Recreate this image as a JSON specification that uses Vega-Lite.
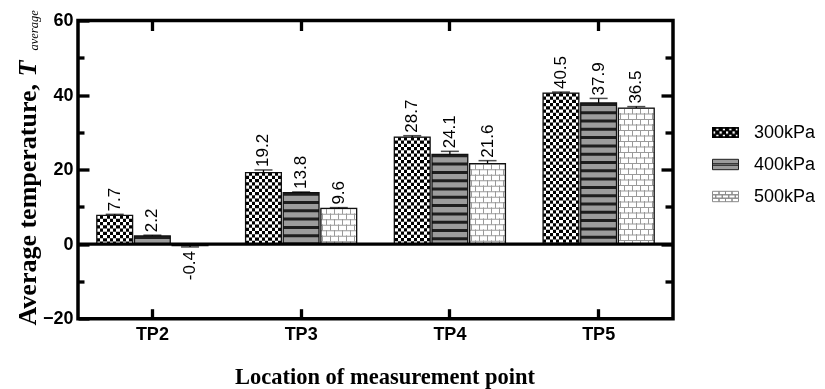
{
  "$schema": "https://vega.github.io/schema/vega-lite/v6.json",
  "autosize": {"type": "none"},
  "padding": {"left": 78, "top": 20.5, "right": 152, "bottom": 70.3},
  "width": 595,
  "height": 298.2,
  "background": "white",
  "data": {"values": [
    {"loc": "TP2", "p": "300kPa", "v": 7.7, "hi": 8.0},
    {"loc": "TP2", "p": "400kPa", "v": 2.2, "hi": 2.4},
    {"loc": "TP2", "p": "500kPa", "v": -0.4, "hi": -0.75},
    {"loc": "TP3", "p": "300kPa", "v": 19.2, "hi": 19.9},
    {"loc": "TP3", "p": "400kPa", "v": 13.8, "hi": 14.0},
    {"loc": "TP3", "p": "500kPa", "v": 9.6, "hi": 9.8},
    {"loc": "TP4", "p": "300kPa", "v": 28.7, "hi": 29.1},
    {"loc": "TP4", "p": "400kPa", "v": 24.1, "hi": 24.9},
    {"loc": "TP4", "p": "500kPa", "v": 21.6, "hi": 22.4},
    {"loc": "TP5", "p": "300kPa", "v": 40.5, "hi": 40.8},
    {"loc": "TP5", "p": "400kPa", "v": 37.9, "hi": 39.1},
    {"loc": "TP5", "p": "500kPa", "v": 36.5, "hi": 36.9}
  ]},
  "config": {
    "view": {"stroke": "#000", "strokeWidth": 3.5},
    "axis": {"domain": false, "grid": false, "tickColor": "#000", "tickWidth": 3.3, "labelFont": "Liberation Sans", "labelFontSize": 18, "labelFontWeight": "bold", "labelColor": "#000", "titleColor": "#000"}
  },
  "resolve": {"axis": {"x": "independent", "y": "independent"}},
  "layer": [
    {
      "transform": [{"filter": "datum.p == '300kPa'"}],
      "mark": {"type": "bar", "fill": {"gradient": "linear", "x1": 0, "y1": 0, "x2": 1, "y2": 0, "stops": [{"offset":0,"color":"#000"},{"offset":0.0909,"color":"#000"},{"offset":0.0909,"color":"#fff"},{"offset":0.1818,"color":"#fff"},{"offset":0.1818,"color":"#000"},{"offset":0.2727,"color":"#000"},{"offset":0.2727,"color":"#fff"},{"offset":0.3636,"color":"#fff"},{"offset":0.3636,"color":"#000"},{"offset":0.4545,"color":"#000"},{"offset":0.4545,"color":"#fff"},{"offset":0.5455,"color":"#fff"},{"offset":0.5455,"color":"#000"},{"offset":0.6364,"color":"#000"},{"offset":0.6364,"color":"#fff"},{"offset":0.7273,"color":"#fff"},{"offset":0.7273,"color":"#000"},{"offset":0.8182,"color":"#000"},{"offset":0.8182,"color":"#fff"},{"offset":0.9091,"color":"#fff"},{"offset":0.9091,"color":"#000"},{"offset":1,"color":"#000"}]}},
      "encoding": {
        "x": {"field": "loc", "type": "nominal", "scale": {"paddingInner": 0, "paddingOuter": 0},
              "axis": {"orient": "bottom", "title": "Location of measurement point", "titleFont": "Liberation Serif", "titleFontSize": 22.5, "titleFontWeight": "bold", "titleX": 306.5, "titleY": 64.3, "titleAlign": "center", "titleBaseline": "alphabetic", "labelAngle": 0, "labelBaseline": "top", "labelPadding": 17, "tickSize": -10}},
        "xOffset": {"field": "p", "type": "nominal", "scale": {"paddingInner": 0.05, "paddingOuter": 0.5}},
        "y": {"field": "v", "type": "quantitative", "scale": {"domain": [-20, 60], "nice": false},
              "axis": {"orient": "left", "values": [-20, 0, 20, 40, 60], "tickSize": -11, "labelPadding": 16, "title": "Average temperature,", "titleFont": "Liberation Serif", "titleFontSize": 26, "titleFontWeight": "bold", "titleAngle": 270, "titleAlign": "left", "titleBaseline": "alphabetic", "titleX": -43, "titleY": 304.5}}
      }
    },
    {
      "transform": [{"filter": "datum.p == '300kPa'"}],
      "mark": {"type": "rule", "stroke": "#fff", "strokeWidth": 35.78, "strokeCap": "butt", "strokeDash": [3.25, 3.25], "blend": "difference"},
      "encoding": {
        "x": {"field": "loc", "type": "nominal", "axis": {"orient": "top", "labels": false, "tickSize": -10, "title": null}},
        "xOffset": {"field": "p", "type": "nominal"},
        "y": {"field": "v", "type": "quantitative", "axis": {"orient": "right", "values": [0, 20, 40], "labels": false, "tickSize": -12, "title": null}},
        "y2": {"datum": 0}
      }
    },
    {
      "transform": [{"filter": "datum.p == '400kPa'"}],
      "mark": {"type": "bar", "fill": "#9c9c9c"},
      "encoding": {
        "x": {"field": "loc", "type": "nominal", "axis": null},
        "xOffset": {"field": "p", "type": "nominal"},
        "y": {"field": "v", "type": "quantitative", "axis": {"orient": "left", "values": [-10, 10, 30, 50], "labels": false, "tickSize": -6, "title": null}}
      }
    },
    {
      "transform": [{"filter": "datum.p == '400kPa'"}],
      "mark": {"type": "rule", "stroke": "#1e1e1e", "strokeWidth": 35.78, "strokeCap": "butt", "strokeDash": [3, 5.3]},
      "encoding": {
        "x": {"field": "loc", "type": "nominal", "axis": null},
        "xOffset": {"field": "p", "type": "nominal"},
        "y": {"field": "v", "type": "quantitative", "axis": {"orient": "right", "values": [-10, 10, 30, 50], "labels": false, "tickSize": -8, "title": null}},
        "y2": {"datum": 0}
      }
    },
    {
      "transform": [{"filter": "datum.p == '500kPa'"}],
      "mark": {"type": "bar", "fill": {"gradient": "linear", "x1": 0, "y1": 0, "x2": 1, "y2": 0, "stops": [{"offset":0,"color":"#000"},{"offset":0.1118,"color":"#000"},{"offset":0.1118,"color":"#fff"},{"offset":0.2236,"color":"#fff"},{"offset":0.2236,"color":"#000"},{"offset":0.3354,"color":"#000"},{"offset":0.3354,"color":"#fff"},{"offset":0.4472,"color":"#fff"},{"offset":0.4472,"color":"#000"},{"offset":0.559,"color":"#000"},{"offset":0.559,"color":"#fff"},{"offset":0.6708,"color":"#fff"},{"offset":0.6708,"color":"#000"},{"offset":0.7826,"color":"#000"},{"offset":0.7826,"color":"#fff"},{"offset":0.8944,"color":"#fff"},{"offset":0.8944,"color":"#000"},{"offset":1,"color":"#000"}]}},
      "encoding": {
        "x": {"field": "loc", "type": "nominal", "axis": null},
        "xOffset": {"field": "p", "type": "nominal"},
        "y": {"field": "v", "type": "quantitative", "axis": {"orient": "left", "labels": false, "ticks": false, "title": "T", "titleFont": "Liberation Serif", "titleFontSize": 26, "titleFontWeight": "bold", "titleFontStyle": "italic", "titleAngle": 270, "titleAlign": "left", "titleBaseline": "alphabetic", "titleX": -43, "titleY": 55.5}}
      }
    },
    {
      "transform": [{"filter": "datum.p == '500kPa'"}],
      "mark": {"type": "rule", "stroke": "#fff", "strokeWidth": 35.78, "strokeCap": "butt", "strokeDash": [5.5, 5.5], "blend": "difference"},
      "encoding": {
        "x": {"field": "loc", "type": "nominal", "axis": null},
        "xOffset": {"field": "p", "type": "nominal"},
        "y": {"field": "v", "type": "quantitative", "axis": {"orient": "left", "labels": false, "ticks": false, "title": "average", "titleFont": "Liberation Serif", "titleFontSize": 12.5, "titleFontWeight": "normal", "titleFontStyle": "italic", "titleAngle": 270, "titleAlign": "left", "titleBaseline": "alphabetic", "titleX": -40.5, "titleY": 29.5}},
        "y2": {"datum": 0}
      }
    },
    {
      "transform": [{"filter": "datum.p == '500kPa'"}],
      "mark": {"type": "bar", "blend": "lighten", "fill": {"gradient": "linear", "x1": 0, "y1": 0, "x2": 1, "y2": 0, "stops": [{"offset":0,"color":"#fff"},{"offset":0.0419,"color":"#fff"},{"offset":0.0419,"color":"#9a9a9a"},{"offset":0.0699,"color":"#9a9a9a"},{"offset":0.0699,"color":"#fff"},{"offset":0.1537,"color":"#fff"},{"offset":0.1537,"color":"#9a9a9a"},{"offset":0.1817,"color":"#9a9a9a"},{"offset":0.1817,"color":"#fff"},{"offset":0.2655,"color":"#fff"},{"offset":0.2655,"color":"#9a9a9a"},{"offset":0.2935,"color":"#9a9a9a"},{"offset":0.2935,"color":"#fff"},{"offset":0.3773,"color":"#fff"},{"offset":0.3773,"color":"#9a9a9a"},{"offset":0.4053,"color":"#9a9a9a"},{"offset":0.4053,"color":"#fff"},{"offset":0.4891,"color":"#fff"},{"offset":0.4891,"color":"#9a9a9a"},{"offset":0.517,"color":"#9a9a9a"},{"offset":0.517,"color":"#fff"},{"offset":0.6009,"color":"#fff"},{"offset":0.6009,"color":"#9a9a9a"},{"offset":0.6288,"color":"#9a9a9a"},{"offset":0.6288,"color":"#fff"},{"offset":0.7127,"color":"#fff"},{"offset":0.7127,"color":"#9a9a9a"},{"offset":0.7406,"color":"#9a9a9a"},{"offset":0.7406,"color":"#fff"},{"offset":0.8245,"color":"#fff"},{"offset":0.8245,"color":"#9a9a9a"},{"offset":0.8524,"color":"#9a9a9a"},{"offset":0.8524,"color":"#fff"},{"offset":0.9363,"color":"#fff"},{"offset":0.9363,"color":"#9a9a9a"},{"offset":0.9642,"color":"#9a9a9a"},{"offset":0.9642,"color":"#fff"},{"offset":1,"color":"#fff"}]}},
      "encoding": {
        "x": {"field": "loc", "type": "nominal", "axis": null},
        "xOffset": {"field": "p", "type": "nominal"},
        "y": {"field": "v", "type": "quantitative", "axis": null}
      }
    },
    {
      "transform": [{"filter": "datum.p == '500kPa'"}],
      "mark": {"type": "rule", "stroke": "#9a9a9a", "strokeWidth": 35.78, "strokeCap": "butt", "strokeDash": [1, 4.5]},
      "encoding": {
        "x": {"field": "loc", "type": "nominal", "axis": null},
        "xOffset": {"field": "p", "type": "nominal"},
        "y": {"field": "v", "type": "quantitative", "axis": null},
        "y2": {"datum": 0}
      }
    },
    {
      "mark": {"type": "bar", "fill": "#fff", "fillOpacity": 0, "stroke": "#111", "strokeWidth": 1.3},
      "encoding": {
        "x": {"field": "loc", "type": "nominal", "axis": null},
        "xOffset": {"field": "p", "type": "nominal"},
        "y": {"field": "v", "type": "quantitative", "axis": null}
      }
    },
    {
      "data": {"values": [{"z": 0}]},
      "mark": {"type": "rule", "color": "#000", "strokeWidth": 3.2},
      "encoding": {"y": {"datum": 0, "type": "quantitative", "axis": null}}
    },
    {
      "mark": {"type": "rule", "color": "#000", "strokeWidth": 1.3},
      "encoding": {
        "x": {"field": "loc", "type": "nominal", "axis": null},
        "xOffset": {"field": "p", "type": "nominal"},
        "y": {"field": "v", "type": "quantitative", "axis": null},
        "y2": {"field": "hi"}
      }
    },
    {
      "mark": {"type": "tick", "orient": "horizontal", "size": 18, "thickness": 1.5, "color": "#000"},
      "encoding": {
        "x": {"field": "loc", "type": "nominal", "axis": null},
        "xOffset": {"field": "p", "type": "nominal"},
        "y": {"field": "hi", "type": "quantitative", "axis": null}
      }
    },
    {
      "transform": [{"filter": "datum.v >= 0"}],
      "mark": {"type": "text", "angle": 270, "align": "left", "baseline": "middle", "dx": 3, "font": "Liberation Sans", "fontSize": 17, "color": "#000"},
      "encoding": {
        "x": {"field": "loc", "type": "nominal", "axis": null},
        "xOffset": {"field": "p", "type": "nominal"},
        "y": {"field": "hi", "type": "quantitative", "axis": null},
        "text": {"field": "v", "type": "nominal"}
      }
    },
    {
      "transform": [{"filter": "datum.v < 0"}],
      "mark": {"type": "text", "angle": 270, "align": "right", "baseline": "middle", "dx": -4, "font": "Liberation Sans", "fontSize": 17, "color": "#000"},
      "encoding": {
        "x": {"field": "loc", "type": "nominal", "axis": null},
        "xOffset": {"field": "p", "type": "nominal"},
        "y": {"field": "hi", "type": "quantitative", "axis": null},
        "text": {"field": "v", "type": "nominal"}
      }
    },
    {
      "mark": {"type": "point", "opacity": 0, "filled": true, "strokeWidth": 1},
      "encoding": {
        "x": {"field": "loc", "type": "nominal", "axis": null},
        "xOffset": {"field": "p", "type": "nominal"},
        "y": {"field": "v", "type": "quantitative", "axis": null},
        "fill": {"field": "p", "type": "nominal", "scale": {"range": ["#000", "#9c9c9c", "#fff"]},
                 "legend": {"title": null, "orient": "none", "legendX": 634, "legendY": 98.5, "symbolSize": 676, "symbolStrokeWidth": 1, "symbolOpacity": 1, "labelFont": "Liberation Sans", "labelFontSize": 18, "labelColor": "#000", "labelOffset": 15, "rowPadding": 9, "padding": 0}},
        "stroke": {"field": "p", "type": "nominal", "scale": {"range": ["#000", "#1e1e1e", "#8a8a8a"]},
                 "legend": {"title": null, "orient": "none", "legendX": 634, "legendY": 98.5, "symbolSize": 676, "symbolStrokeWidth": 1, "symbolOpacity": 1, "labelFont": "Liberation Sans", "labelFontSize": 18, "labelColor": "#000", "labelOffset": 15, "rowPadding": 9, "padding": 0}},
        "shape": {"field": "p", "type": "nominal", "scale": {"range": [
          "M-1 -0.375h0.25v0.25h-0.25Z M-0.5 -0.375h0.25v0.25h-0.25Z M0 -0.375h0.25v0.25h-0.25Z M0.5 -0.375h0.25v0.25h-0.25Z M-0.75 -0.125h0.25v0.25h-0.25Z M-0.25 -0.125h0.25v0.25h-0.25Z M0.25 -0.125h0.25v0.25h-0.25Z M0.75 -0.125h0.25v0.25h-0.25Z M-1 0.125h0.25v0.25h-0.25Z M-0.5 0.125h0.25v0.25h-0.25Z M0 0.125h0.25v0.25h-0.25Z M0.5 0.125h0.25v0.25h-0.25Z M-1 -0.375h2v0.04h-2Z M-1 0.335h2v0.04h-2Z M-1 -0.375h0.04v0.75h-0.04Z M0.96 -0.375h0.04v0.75h-0.04Z",
          "M-1 -0.4h2v0.8h-2Z M-1 -0.06h2v0.12h-2Z",
          "M-1 -0.4h0.5v0.2667h-0.5Z M-0.5 -0.4h0.5v0.2667h-0.5Z M0 -0.4h0.5v0.2667h-0.5Z M0.5 -0.4h0.5v0.2667h-0.5Z M-1 -0.1333h0.25v0.2667h-0.25Z M-0.75 -0.1333h0.5v0.2667h-0.5Z M-0.25 -0.1333h0.5v0.2667h-0.5Z M0.25 -0.1333h0.5v0.2667h-0.5Z M0.75 -0.1333h0.25v0.2667h-0.25Z M-1 0.1333h0.5v0.2667h-0.5Z M-0.5 0.1333h0.5v0.2667h-0.5Z M0 0.1333h0.5v0.2667h-0.5Z M0.5 0.1333h0.5v0.2667h-0.5Z"
        ]},
                 "legend": {"title": null, "orient": "none", "legendX": 634, "legendY": 98.5, "symbolSize": 676, "symbolStrokeWidth": 1, "symbolOpacity": 1, "labelFont": "Liberation Sans", "labelFontSize": 18, "labelColor": "#000", "labelOffset": 15, "rowPadding": 9, "padding": 0}}
      }
    }
  ]
}
